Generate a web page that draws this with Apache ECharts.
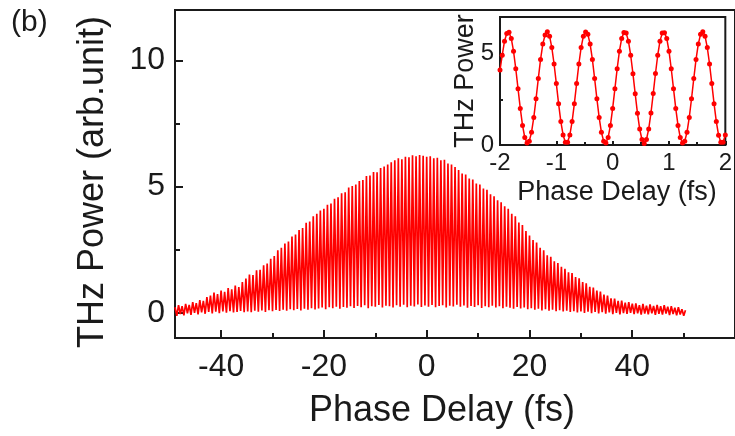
<!DOCTYPE html>
<html>
<head>
<meta charset="utf-8">
<script src="https://cdn.jsdelivr.net/npm/echarts@6/dist/echarts.min.js"></script>
<style>
html,body{margin:0;padding:0;background:#fff;}
#chart{width:735px;height:436px;}
</style>
</head>
<body>
<div id="chart"></div>
<script>
// ---- Main trace: phase delay (fs) of each fringe crest / trough, and THz power (arb. unit) ----
const mainDelay = [
-49.00,-48.65,-48.31,-47.96,-47.62,-47.27,-46.93,-46.58,-46.24,-45.89,-45.55,-45.20,-44.86,-44.51,-44.17,-43.82,-43.48,-43.13,-42.79,-42.44,
-42.10,-41.75,-41.41,-41.06,-40.72,-40.37,-40.03,-39.68,-39.34,-38.99,-38.65,-38.30,-37.96,-37.61,-37.27,-36.92,-36.58,-36.23,-35.89,-35.54,
-35.20,-34.85,-34.51,-34.16,-33.82,-33.47,-33.13,-32.78,-32.44,-32.09,-31.75,-31.40,-31.06,-30.71,-30.37,-30.02,-29.68,-29.33,-28.99,-28.64,
-28.30,-27.95,-27.61,-27.26,-26.92,-26.57,-26.23,-25.88,-25.54,-25.19,-24.85,-24.50,-24.16,-23.81,-23.47,-23.12,-22.78,-22.43,-22.09,-21.74,
-21.40,-21.05,-20.71,-20.36,-20.02,-19.67,-19.33,-18.98,-18.64,-18.29,-17.95,-17.60,-17.26,-16.91,-16.57,-16.22,-15.88,-15.53,-15.19,-14.84,
-14.50,-14.15,-13.81,-13.46,-13.12,-12.77,-12.43,-12.08,-11.74,-11.39,-11.05,-10.70,-10.36,-10.01,-9.67,-9.32,-8.98,-8.63,-8.29,-7.94,
-7.60,-7.25,-6.91,-6.56,-6.22,-5.87,-5.53,-5.18,-4.84,-4.49,-4.15,-3.80,-3.46,-3.11,-2.77,-2.42,-2.08,-1.73,-1.39,-1.04,
-0.70,-0.35,-0.01,0.34,0.68,1.03,1.37,1.72,2.06,2.41,2.75,3.10,3.44,3.79,4.13,4.48,4.82,5.17,5.51,5.86,
6.20,6.55,6.89,7.24,7.58,7.93,8.27,8.62,8.96,9.31,9.65,10.00,10.34,10.69,11.03,11.38,11.72,12.07,12.41,12.76,
13.10,13.45,13.79,14.14,14.48,14.83,15.17,15.52,15.86,16.21,16.55,16.90,17.24,17.59,17.93,18.28,18.62,18.97,19.31,19.66,
20.00,20.35,20.69,21.04,21.38,21.73,22.07,22.42,22.76,23.11,23.45,23.80,24.14,24.49,24.83,25.18,25.52,25.87,26.21,26.56,
26.90,27.25,27.59,27.94,28.28,28.63,28.97,29.32,29.66,30.01,30.35,30.70,31.04,31.39,31.73,32.08,32.42,32.77,33.11,33.46,
33.80,34.15,34.49,34.84,35.18,35.53,35.87,36.22,36.56,36.91,37.25,37.60,37.94,38.29,38.63,38.98,39.32,39.67,40.01,40.36,
40.70,41.05,41.39,41.74,42.08,42.43,42.77,43.12,43.46,43.81,44.15,44.50,44.84,45.19,45.53,45.88,46.22,46.57,46.91,47.26,
47.60,47.95,48.29,48.64,48.98,49.33,49.67,50.02,50.36
];
const mainPower = [
0.22,-0.12,0.30,-0.05,0.26,-0.10,0.35,-0.02,0.31,-0.08,0.42,0.00,0.38,-0.06,0.50,0.02,0.47,-0.04,0.62,0.03,
0.68,-0.03,0.80,0.04,0.74,-0.02,0.88,0.05,0.83,0.00,0.98,0.06,0.93,0.01,1.08,0.03,1.02,0.07,1.22,0.02,
1.36,0.05,1.52,0.02,1.50,0.08,1.68,0.04,1.70,0.09,1.88,0.03,1.95,0.10,2.14,0.06,2.25,0.11,2.48,0.07,
2.58,0.12,2.74,0.08,2.82,0.14,3.02,0.10,3.10,0.15,3.28,0.09,3.36,0.16,3.57,0.12,3.62,0.18,3.82,0.13,
3.92,0.17,4.05,0.21,4.12,0.14,4.28,0.22,4.33,0.18,4.52,0.24,4.58,0.16,4.74,0.23,4.78,0.20,4.96,0.26,
5.02,0.19,5.08,0.27,5.22,0.22,5.26,0.30,5.42,0.18,5.44,0.26,5.58,0.24,5.57,0.31,5.74,0.21,5.80,0.28,
5.88,0.26,5.97,0.21,6.04,0.30,6.12,0.24,6.08,0.32,6.18,0.22,6.16,0.28,6.24,0.25,6.20,0.33,6.25,0.23,
6.22,0.29,6.18,0.24,6.20,0.31,6.12,0.22,6.14,0.27,6.04,0.30,6.06,0.21,5.92,0.28,5.88,0.25,5.78,0.32,
5.66,0.24,5.52,0.29,5.48,0.20,5.32,0.27,5.28,0.23,5.12,0.30,5.08,0.19,4.92,0.26,4.88,0.22,4.70,0.28,
4.62,0.21,4.46,0.26,4.38,0.18,4.22,0.24,4.12,0.20,3.92,0.16,3.82,0.23,3.58,0.17,3.48,0.21,3.24,0.14,
3.06,0.18,2.88,0.12,2.78,0.16,2.58,0.09,2.48,0.14,2.28,0.08,2.22,0.12,2.04,0.06,1.97,0.10,1.82,0.05,
1.74,0.08,1.60,0.03,1.57,0.06,1.42,0.01,1.37,0.05,1.22,-0.01,1.17,0.04,1.03,-0.02,1.00,0.03,0.88,-0.03,
0.84,0.02,0.72,-0.04,0.68,0.01,0.57,-0.05,0.56,0.00,0.47,-0.06,0.48,-0.01,0.40,-0.04,0.42,0.00,0.36,-0.05,
0.37,-0.02,0.30,-0.07,0.35,-0.03,0.28,-0.06,0.33,-0.02,0.27,-0.08,0.31,-0.04,0.26,-0.07,0.30,-0.03,0.24,-0.09,
0.26,-0.05,0.20,-0.10,0.22,-0.07,0.14,-0.12,0.10
];

// ---- Inset trace ----
const insetDelay = [
-2.00,-1.96,-1.92,-1.88,-1.84,-1.80,-1.76,-1.72,-1.68,-1.64,-1.60,-1.56,-1.52,-1.48,-1.44,-1.40,-1.36,-1.32,-1.28,-1.24,
-1.20,-1.16,-1.12,-1.08,-1.04,-1.00,-0.96,-0.92,-0.88,-0.84,-0.80,-0.76,-0.72,-0.68,-0.64,-0.60,-0.56,-0.52,-0.48,-0.44,
-0.40,-0.36,-0.32,-0.28,-0.24,-0.20,-0.16,-0.12,-0.08,-0.04,0.00,0.04,0.08,0.12,0.16,0.20,0.24,0.28,0.32,0.36,
0.40,0.44,0.48,0.52,0.56,0.60,0.64,0.68,0.72,0.76,0.80,0.84,0.88,0.92,0.96,1.00,1.04,1.08,1.12,1.16,
1.20,1.24,1.28,1.32,1.36,1.40,1.44,1.48,1.52,1.56,1.60,1.64,1.68,1.72,1.76,1.80,1.84,1.88,1.92,1.96,2.00
];
const insetPower = [
4.10,4.91,5.68,6.10,6.17,5.83,5.13,4.17,3.08,2.00,
1.07,0.41,0.11,0.21,0.70,1.51,2.53,3.63,4.68,5.52,
6.02,6.20,5.95,5.33,4.43,3.36,2.26,1.28,0.55,0.15,
0.15,0.55,1.28,2.26,3.36,4.43,5.33,5.95,6.18,6.05,
5.52,4.68,3.63,2.53,1.51,0.70,0.21,0.11,0.41,1.07,
2.00,3.08,4.17,5.13,5.83,6.15,6.12,5.68,4.91,3.90,
2.80,1.74,0.87,0.30,0.08,0.30,0.88,1.75,2.81,3.91,
4.91,5.68,6.12,6.14,5.83,5.13,4.17,3.08,2.00,1.07,
0.41,0.11,0.21,0.70,1.51,2.53,3.63,4.68,5.52,6.05,
6.20,5.95,5.33,4.43,3.36,2.26,1.28,0.54,0.15,0.15,0.55
];

// ---- Tick values ----
const mainXTicks = [-40, -20, 0, 20, 40];
const mainXMinor = [-30, -10, 10, 30, 50];
const mainYTicks = [0, 5, 10];
const mainYMinor = [2.5, 7.5];
const insetXTicks = [-2, -1, 0, 1, 2];
const insetXMinor = [-1.5, -0.5, 0.5, 1.5];
const insetYTicks = [0, 5];
const insetYMinor = [2.5];

const FONT = 'Liberation Sans';
const INK = '#1a1a1a';
const RED = '#ff0000';

const chart = echarts.init(document.getElementById('chart'), null, {renderer: 'canvas'});

function xAxisDef(grid, min, max, ticks, len, labels, fs, margin) {
  return {
    type: 'value', gridIndex: grid, min: min, max: max, position: 'bottom',
    axisLine: {show: labels, onZero: false, lineStyle: {color: INK, width: 2}},
    axisTick: {show: true, inside: true, length: len, customValues: ticks, lineStyle: {color: INK, width: 2}},
    axisLabel: labels ? {show: true, customValues: ticks, fontSize: fs, fontFamily: FONT, color: INK, margin: margin} : {show: false},
    splitLine: {show: false}
  };
}
function yAxisDef(grid, min, max, ticks, len, labels, fs, margin) {
  return {
    type: 'value', gridIndex: grid, min: min, max: max, position: 'left',
    axisLine: {show: labels, onZero: false, lineStyle: {color: INK, width: 2}},
    axisTick: {show: true, inside: true, length: len, customValues: ticks, lineStyle: {color: INK, width: 2}},
    axisLabel: labels ? {show: true, customValues: ticks, fontSize: fs, fontFamily: FONT, color: INK, margin: margin} : {show: false},
    splitLine: {show: false}
  };
}

const option = {
  animation: false,
  backgroundColor: '#fff',
  grid: [
    {left: 175, top: 10, width: 571, height: 328, show: true, borderColor: INK, borderWidth: 2, backgroundColor: 'transparent'},
    {left: 500, top: 17, width: 230, height: 128, show: true, borderColor: INK, borderWidth: 2, backgroundColor: '#fff'}
  ],
  xAxis: [
    xAxisDef(0, -49, 60, mainXTicks, 8, true, 32, 13),
    xAxisDef(0, -49, 60, mainXMinor, 5, false),
    xAxisDef(1, -2, 2, insetXTicks, 4, true, 24, 6),
    xAxisDef(1, -2, 2, insetXMinor, 3, false)
  ],
  yAxis: [
    yAxisDef(0, -1, 12, mainYTicks, 8, true, 32, 10),
    yAxisDef(0, -1, 12, mainYMinor, 5, false),
    yAxisDef(1, 0, 7, insetYTicks, 4, true, 24, 6),
    yAxisDef(1, 0, 7, insetYMinor, 3, false)
  ],
  series: [
    {
      type: 'line', xAxisIndex: 0, yAxisIndex: 0,
      data: mainDelay.map((x, i) => [x, mainPower[i]]),
      showSymbol: false, symbol: 'none', sampling: null,
      lineStyle: {color: RED, width: 1.7},
      z: 2
    },
    {
      type: 'line', xAxisIndex: 2, yAxisIndex: 2,
      data: insetDelay.map((x, i) => [x, insetPower[i]]),
      symbol: 'circle', symbolSize: 5, showSymbol: true,
      itemStyle: {color: RED},
      lineStyle: {color: RED, width: 1.5},
      z: 5
    }
  ],
  graphic: [
    {type: 'text', left: 11, top: 8, style: {text: '(b)', font: '30px ' + FONT, fill: INK}},
    {type: 'text', x: 93, y: 182, rotation: Math.PI / 2,
      style: {text: 'THz Power (arb.unit)', font: '36px ' + FONT, fill: INK, textAlign: 'center', textVerticalAlign: 'middle'}},
    {type: 'text', x: 442, y: 411,
      style: {text: 'Phase Delay (fs)', font: '36px ' + FONT, fill: INK, textAlign: 'center', textVerticalAlign: 'middle'}},
    {type: 'text', x: 466, y: 81, rotation: Math.PI / 2,
      style: {text: 'THz Power', font: '27px ' + FONT, fill: INK, textAlign: 'center', textVerticalAlign: 'middle'}},
    {type: 'text', x: 617, y: 193,
      style: {text: 'Phase Delay (fs)', font: '27px ' + FONT, fill: INK, textAlign: 'center', textVerticalAlign: 'middle'}}
  ]
};
chart.setOption(option);
</script>
</body>
</html>
